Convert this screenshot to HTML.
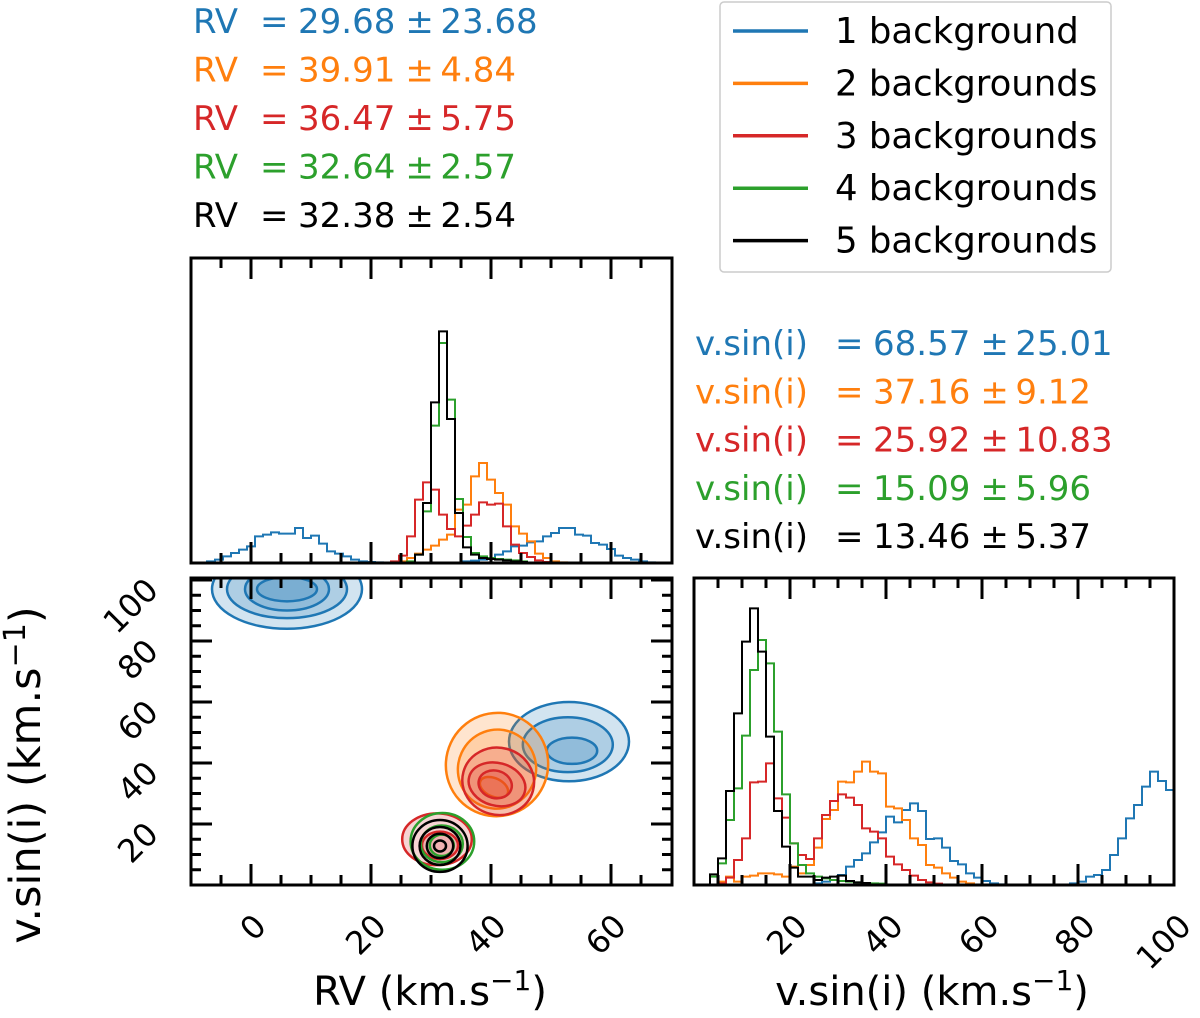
<!DOCTYPE html>
<html><head><meta charset="utf-8"><style>
html,body{margin:0;padding:0;background:#fff}
svg{display:block}
text{font-family:"DejaVu Sans","Liberation Sans",sans-serif}
</style></head><body>
<svg id="fig" width="1200" height="1018" viewBox="0 0 1200 1018" xmlns="http://www.w3.org/2000/svg">
<defs>
<clipPath id="clipC"><rect x="191" y="578" width="481" height="307"/></clipPath>
<clipPath id="clipR"><rect x="694" y="578" width="480" height="307"/></clipPath>
</defs>
</svg>
<script>
const colors = ['#1f77b4','#ff7f0e','#d62728','#2ca02c','#000000'];
const seriesNames = ['1 background','2 backgrounds','3 backgrounds','4 backgrounds','5 backgrounds'];
const rvMeans = ['29.68','39.91','36.47','32.64','32.38'];
const rvErrs = ['23.68','4.84','5.75','2.57','2.54'];
const vsMeans = ['68.57','37.16','25.92','15.09','13.46'];
const vsErrs = ['25.01','9.12','10.83','5.96','5.37'];
const rvTicks = [0,20,40,60];
const vsTicks = [20,40,60,80,100];
const rvHistBlue = [[2,5],[3,10],[4,20],[5,30],[6,40],[7,50],[8,80],[9,85],[10,92],[11,88],[12,88],[13,105],[14,75],[15,82],[16,58],[17,35],[18,28],[19,20],[20,10],[21,5],[22,3],[23,2],[34,5],[35,7],[36,10],[37,15],[38,25],[39,35],[40,50],[41,52],[42,62],[43,65],[44,80],[45,90],[46,105],[47,105],[48,85],[49,82],[50,60],[51,55],[52,42],[53,22],[54,15],[55,10],[56,5],[57,2]];
const rvHistOrange = [[26,5],[27,15],[28,28],[29,40],[30,52],[31,70],[32,85],[33,160],[34,175],[35,260],[36,300],[37,250],[38,210],[39,175],[40,110],[41,88],[42,65],[43,28],[44,15],[45,5],[46,2]];
const rvHistRed = [[25,5],[26,22],[27,80],[28,190],[29,242],[30,220],[31,145],[32,102],[33,80],[34,112],[35,145],[36,182],[37,175],[38,178],[39,110],[40,55],[41,30],[42,18],[43,8],[44,3]];
const rvHistGreen = [[27,5],[28,25],[29,155],[30,412],[31,660],[32,490],[33,192],[34,78],[35,30],[36,20],[37,15],[38,12],[39,10],[40,8],[41,5]];
const rvHistBlack = [[28,25],[29,180],[30,482],[31,695],[32,432],[33,150],[34,47],[35,25],[36,15],[37,12],[38,10],[39,8],[40,5],[41,3]];
const vsHistBlue = [[15,5],[16,10],[17,15],[18,30],[19,55],[20,75],[21,95],[22,128],[23,158],[24,205],[25,188],[26,225],[27,245],[28,222],[29,138],[30,140],[31,112],[32,72],[33,62],[34,35],[35,22],[36,12],[37,5],[38,2],[47,5],[48,10],[49,25],[50,30],[51,45],[52,90],[53,140],[54,200],[55,240],[56,295],[57,340],[58,312],[59,285]];
const vsHistOrange = [[3,10],[4,25],[5,10],[6,25],[7,28],[8,35],[9,35],[10,32],[11,25],[12,55],[13,35],[14,60],[15,112],[16,198],[17,225],[18,310],[19,308],[20,340],[21,370],[22,340],[23,335],[24,235],[25,230],[26,195],[27,140],[28,120],[29,60],[30,52],[31,35],[32,22],[33,10],[34,5]];
const vsHistRed = [[3,5],[4,22],[5,75],[6,140],[7,308],[8,310],[9,365],[10,260],[11,202],[12,125],[13,90],[14,78],[15,140],[16,210],[17,252],[18,272],[19,262],[20,240],[21,170],[22,160],[23,140],[24,85],[25,62],[26,45],[27,28],[28,15],[29,8],[30,4]];
const vsHistGreen = [[2,25],[3,65],[4,195],[5,290],[6,448],[7,645],[8,735],[9,665],[10,460],[11,272],[12,125],[13,60],[14,35],[15,25],[16,20],[17,15],[18,12],[19,10],[20,8],[21,6],[22,5],[23,4]];
const vsHistBlack = [[2,32],[3,80],[4,282],[5,515],[6,730],[7,830],[8,700],[9,445],[10,222],[11,115],[12,52],[13,25],[14,25],[15,15],[16,22],[17,25],[18,28],[19,12],[20,8],[21,6]];
const ctBlueA = [[6,97,12.5,13,0],[6,97,10,9.5,0],[6,97,7,7,0],[6,97,5,4,0]];
const ctBlueB = [[53,47,10,13,0],[52.8,46,7.5,9,0],[53.5,44,4.2,4.3,0]];
const ctOrange = [[41,39.5,8.5,17,25],[41,38,6.5,13,25],[40.5,32,2.5,3,25]];
const ctRedA = [[41.2,34,6,11,15],[41,33,4.8,7,15],[40.7,33,2.8,4.5,15]];
const ctRedB = [[31,15,5.8,8.5,0],[31.5,13,3,4.5,0]];
const ctGreen = [[31.9,14.3,5.3,9.3,0],[31.8,13.5,3.5,6,0],[31.8,13,2,3.5,0]];
const ctBlack = [[31.5,12.8,4.6,8.5,0],[31.5,12.8,3.4,6.2,0],[31.5,12.8,2.2,4,0],[31.5,12.8,1,1.8,0]];

const svg = document.getElementById('fig');
const NS = 'http://www.w3.org/2000/svg';
function mk(tag, attrs, parent){const e=document.createElementNS(NS,tag);for(const k in attrs)e.setAttribute(k,attrs[k]);(parent||svg).appendChild(e);return e;}

const T = {x0:191,x1:672,y0:258,y1:563};
const C = {x0:191,x1:672,y0:578,y1:885};
const R = {x0:694,x1:1174,y0:578,y1:885};
const rvX = v => 251 + (v)*6;
const vsY = v => 885 - v*3.05;
const vsX = v => 694 + v*4.8;
const topY = c => T.y1 - c/3;
const rightY = c => R.y1 - c/3;

function histPath(data, nb, x0, bw, yf, base){
  const m = {}; data.forEach(d=>m[d[0]]=d[1]);
  let first = data[0][0], last = data[data.length-1][0];
  let d = 'M'+(x0+first*bw)+','+base;
  for(let i=first;i<=last;i++){const c=m[i]||0;d+=' L'+(x0+i*bw)+','+yf(c)+' L'+(x0+(i+1)*bw)+','+yf(c);}
  d+=' L'+(x0+(last+1)*bw)+','+base;
  return d;
}
const rvH=[rvHistBlue,rvHistOrange,rvHistRed,rvHistGreen,rvHistBlack];
const vsH=[vsHistBlue,vsHistOrange,vsHistRed,vsHistGreen,vsHistBlack];
const gT = mk('g',{});


rvH.forEach((h,i)=>{
  const p = mk('path',{d:histPath(h,60,rvX(-10),8,topY,T.y1),fill:'none',stroke:colors[i],'stroke-width':2},gT);
  
  
});
const gR = mk('g',{'clip-path':'url(#clipR)'});


vsH.forEach((h,i)=>{
  const p = mk('path',{d:histPath(h,60,vsX(0),8,rightY,R.y1),fill:'none',stroke:colors[i],'stroke-width':2},gR);
  
  
});

const gC = mk('g',{'clip-path':'url(#clipC)'});


function contours(levels, col, fill, name){
  levels.forEach((l,j)=>{
    const cx=rvX(l[0]), cy=vsY(l[1]), rx=l[2]*6, ry=l[3]*3.05;
    const e = mk('ellipse',{cx:cx,cy:cy,rx:rx,ry:ry,transform:'rotate('+l[4]+' '+cx+' '+cy+')',fill:fill?col:'none','fill-opacity':fill?0.2:0,stroke:col,'stroke-width':2.5},gC);
    
    
  });
}
contours(ctBlueA,colors[0],true,'contour-1bg-a');
contours(ctBlueB,colors[0],true,'contour-1bg-b');
contours(ctOrange,colors[1],true,'contour-2bg');
contours(ctRedA,colors[2],true,'contour-3bg-a');
contours(ctRedB,colors[2],true,'contour-3bg-b');
contours(ctGreen,colors[3],false,'contour-4bg');
contours(ctBlack,colors[4],false,'contour-5bg');

function frame(a,name){
  const r=mk('rect',{x:a.x0,y:a.y0,width:a.x1-a.x0,height:a.y1-a.y0,fill:'none',stroke:'#000','stroke-width':3});
  
  
}
frame(T,'rv-hist-frame');frame(C,'contour-frame');frame(R,'vsini-hist-frame');
function xTicks(a, f, lo, hi, step){
  for(let v=lo; v<=hi+1e-6; v+=step){
    const x=f(v); if(x<a.x0+2||x>a.x1-2) continue;
    const major = Math.abs(v%20)<1e-6; const L= major?21:10;
    mk('line',{x1:x,x2:x,y1:a.y1,y2:a.y1-L,stroke:'#000','stroke-width':3});
    mk('line',{x1:x,x2:x,y1:a.y0,y2:a.y0+L,stroke:'#000','stroke-width':3});
  }
}
function yTicks(a, f, lo, hi, step){
  for(let v=lo; v<=hi+1e-6; v+=step){
    const y=f(v); if(y<a.y0+2||y>a.y1-2) continue;
    const major = Math.abs(v%20)<1e-6; const L= major?21:10;
    mk('line',{x1:a.x0,x2:a.x0+L,y1:y,y2:y,stroke:'#000','stroke-width':3});
    mk('line',{x1:a.x1,x2:a.x1-L,y1:y,y2:y,stroke:'#000','stroke-width':3});
  }
}
xTicks(T,rvX,-10,70,5); xTicks(C,rvX,-10,70,5); xTicks(R,vsX,0,100,5); yTicks(C,vsY,0,100,5);

rvTicks.forEach(v=>{
  const x=rvX(v)+17, y=928;
  const t=mk('text',{x:x,y:y,'font-size':32,'text-anchor':'end',transform:'rotate(-45 '+x+' '+y+')'}); t.textContent=v;
  
  
});
vsTicks.forEach(v=>{
  const x=vsX(v)+19, y=928;
  const t=mk('text',{x:x,y:y,'font-size':32,'text-anchor':'end',transform:'rotate(-45 '+x+' '+y+')'}); t.textContent=v;
  
  
  const x2=160, y2=vsY(v)+12;
  const t2=mk('text',{x:x2,y:y2,'font-size':32,'text-anchor':'end',transform:'rotate(-45 '+x2+' '+y2+')'}); t2.textContent=v;
  
  
});

function title(x,y,label,fs,rot,name){
  const t=mk('text',{x:x,y:y,'font-size':fs,'text-anchor':'middle'});
  if(rot) t.setAttribute('transform','rotate(-90 '+x+' '+y+')');
  t.innerHTML=label+' (km.s<tspan dy="-15" font-size="'+(fs*0.7)+'">−1</tspan><tspan dy="15">)</tspan>';
  
  
}
title(430,1005,'RV',40,false,'rv-axis-title');
title(932,1005,'v.sin(i)',40,false,'vsini-axis-title');
title(40,775,'v.sin(i)',43,true,'vsini-y-axis-title');

function stat(label, x0, xEq, xNum, y, mean, err, col, name){
  const a=mk('text',{x:x0,y:y,'font-size':34,fill:col}); a.textContent=label;
  
  
  const e=mk('text',{x:xEq,y:y,'font-size':34,fill:col}); e.textContent='=';
  
  
  const m=mk('text',{x:xNum,y:y,'font-size':34,fill:col}); m.textContent=mean;
  
  
  const w=m.getComputedTextLength();
  const pm=mk('text',{x:xNum+w+10,y:y,'font-size':34,fill:col}); pm.textContent='±';
  
  
  const er=mk('text',{x:xNum+w+45,y:y,'font-size':34,fill:col}); er.textContent=err;
  
  
}
rvMeans.forEach((m,i)=>stat('RV',193,260,298,33+i*48.5,m,rvErrs[i],colors[i],'rv-stat-'+(i+1)));
vsMeans.forEach((m,i)=>stat('v.sin(i)',695,835,873,355+i*48.3,m,vsErrs[i],colors[i],'vsini-stat-'+(i+1)));

const lg=mk('g',{});


mk('rect',{x:720,y:2,width:391,height:270,rx:4,fill:'#fff',stroke:'#ccc','stroke-width':1.5},lg);
seriesNames.forEach((n,i)=>{
  const yc=31+i*52.4;
  const g=mk('g',{},lg);
  
  
  mk('line',{x1:733,x2:808,y1:yc,y2:yc,stroke:colors[i],'stroke-width':3.5},g);
  const t=mk('text',{x:835,y:yc+12,'font-size':35.5,fill:'#000'},g); t.textContent=n;
});
</script>
</body></html>
